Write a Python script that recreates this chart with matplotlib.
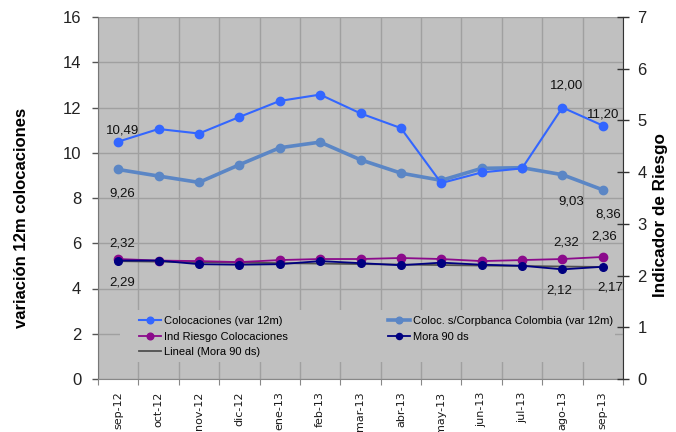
import matplotlib.pyplot as plt
from matplotlib.patches import Rectangle
import numpy as np

# Data
months = ['sep-12', 'oct-12', 'nov-12', 'dic-12', 'ene-13', 'feb-13', 'mar-13',
          'abr-13', 'may-13', 'jun-13', 'jul-13', 'ago-13', 'sep-13']
colocaciones = [10.49, 11.05, 10.85, 11.58, 12.29, 12.57, 11.74,
                11.09, 8.66, 9.13, 9.31, 12.00, 11.20]
coloc_corpbanca = [9.26, 8.97, 8.69, 9.47, 10.22, 10.47, 9.69,
                   9.10, 8.78, 9.31, 9.34, 9.03, 8.36]
ind_riesgo = [2.32, 2.29, 2.28, 2.26, 2.30, 2.32, 2.32,
              2.34, 2.32, 2.28, 2.30, 2.32, 2.36]
mora_90 = [2.29, 2.29, 2.22, 2.21, 2.22, 2.28, 2.24,
           2.20, 2.25, 2.21, 2.19, 2.12, 2.17]

x = np.arange(len(months))

# Linear trend of Mora 90 ds (as Excel "Lineal")
slope, intercept = np.polyfit(x, mora_90, 1)
mora_trend = slope * x + intercept

fig = plt.figure(figsize=(6.76, 4.32), dpi=100)
ax = fig.add_axes([98 / 676, 53 / 432, 525 / 676, 362 / 432])
ax2 = ax.twinx()

ax.set_facecolor('#C0C0C0')
ax.set_xlim(-0.5, len(months) - 0.5)
ax.set_ylim(0, 16)
ax2.set_ylim(0, 7)

# grid
ax.set_yticks(np.arange(0, 17, 2))
ax.set_xticks(np.arange(-0.5, len(months), 1))
ax.set_xticklabels([])
ax.set_xticks(x, minor=True)
ax.set_xticklabels(months, minor=True, rotation=90, fontsize=8,
                   family='DejaVu Sans', color='#1a1a1a')
ax.tick_params(axis='x', which='minor', length=0, pad=9)
ax.tick_params(axis='x', which='major', length=4, color='#888888', direction='out')
ax.grid(True, which='major', color='#A0A0A0', linewidth=1)
ax.set_axisbelow(True)

ax.tick_params(axis='y', length=4, width=1, color='#555555', pad=8,
               labelsize=12, labelcolor='#222222')
for lbl in ax.get_yticklabels():
    lbl.set_family('Liberation Sans')
ax2.set_yticks(np.arange(0, 8, 1))
ax2.tick_params(axis='y', direction='inout', length=9, width=1, color='#333333',
                pad=6, labelsize=12, labelcolor='#222222')
for lbl in ax2.get_yticklabels():
    lbl.set_family('Liberation Sans')

ax.spines['top'].set_visible(False)
ax2.spines['top'].set_visible(False)
ax2.spines['left'].set_visible(False)
ax2.spines['bottom'].set_visible(False)
ax.spines['left'].set_color('#777777')
ax.spines['bottom'].set_color('#888888')
ax.spines['right'].set_visible(False)
ax2.spines['right'].set_color('#333333')

# legend background box hides the gridlines behind it
ax.add_patch(Rectangle((120 / 676, 1 - 362 / 432), 495 / 676, 52 / 432,
                       transform=fig.transFigure, facecolor='#C0C0C0',
                       edgecolor='none', zorder=1))

# series
l1, = ax.plot(x, colocaciones, color='#3366FF', lw=1.5, marker='o', ms=6,
              label='Colocaciones (var 12m)', zorder=4)
l2, = ax.plot(x, coloc_corpbanca, color='#5B86C5', lw=2.6, marker='o', ms=6,
              label='Coloc. s/Corpbanca Colombia (var 12m)', zorder=3)
l5, = ax2.plot(x, mora_trend, color='#505050', lw=1.3,
               label='Lineal (Mora 90 ds)', zorder=2)
l3, = ax2.plot(x, ind_riesgo, color='#8B0A8B', lw=1.3, marker='o', ms=6,
               label='Ind Riesgo Colocaciones', zorder=3)
l4, = ax2.plot(x, mora_90, color='#000080', lw=1.3, marker='o', ms=5.5,
               label='Mora 90 ds', zorder=4)

# data labels
lab_kw = dict(textcoords='offset points', ha='center', va='center',
              fontsize=9.5, family='Liberation Sans', color='#111111')

def fmt(v):
    return f'{v:.2f}'.replace('.', ',')

ax.annotate(fmt(colocaciones[0]), (x[0], colocaciones[0]), xytext=(3, 8), **lab_kw)
ax.annotate(fmt(colocaciones[11]), (x[11], colocaciones[11]), xytext=(3, 16), **lab_kw)
ax.annotate(fmt(colocaciones[12]), (x[12], colocaciones[12]), xytext=(0, 8), **lab_kw)
ax.annotate(fmt(coloc_corpbanca[0]), (x[0], coloc_corpbanca[0]), xytext=(3, -17), **lab_kw)
ax.annotate(fmt(coloc_corpbanca[11]), (x[11], coloc_corpbanca[11]), xytext=(6, -19), **lab_kw)
ax.annotate(fmt(coloc_corpbanca[12]), (x[12], coloc_corpbanca[12]), xytext=(4, -18), **lab_kw)
ax2.annotate(fmt(ind_riesgo[0]), (x[0], ind_riesgo[0]), xytext=(3, 11), **lab_kw)
ax2.annotate(fmt(ind_riesgo[11]), (x[11], ind_riesgo[11]), xytext=(3, 12), **lab_kw)
ax2.annotate(fmt(ind_riesgo[12]), (x[12], ind_riesgo[12]), xytext=(1, 15), **lab_kw)
ax2.annotate(fmt(mora_90[0]), (x[0], mora_90[0]), xytext=(3, -16), **lab_kw)
ax2.annotate(fmt(mora_90[11]), (x[11], mora_90[11]), xytext=(-2, -15), **lab_kw)
ax2.annotate(fmt(mora_90[12]), (x[12], mora_90[12]), xytext=(5, -15), **lab_kw)

# axis titles
fig.text(22 / 676, 1 - 218 / 432, 'variación 12m colocaciones', rotation=90,
         ha='center', va='center', fontsize=12, fontweight='bold',
         family='Liberation Sans')
fig.text(661 / 676, 1 - 215 / 432, 'Indicador de Riesgo', rotation=90,
         ha='center', va='center', fontsize=12.3, fontweight='bold',
         family='Liberation Sans')

# legend
leg = ax.legend(handles=[l1, l3, l5, l2, l4], ncol=2, frameon=False,
                loc='upper left', bbox_to_anchor=(129 / 676, 1 - 306 / 432),
                bbox_transform=fig.transFigure,
                prop={'family': 'Liberation Sans', 'size': 8},
                handlelength=2.0, handletextpad=0.25, labelspacing=0.5,
                columnspacing=9.0, markerscale=0.8)
leg.set_zorder(10)

fig.savefig('out.png', dpi=100)
